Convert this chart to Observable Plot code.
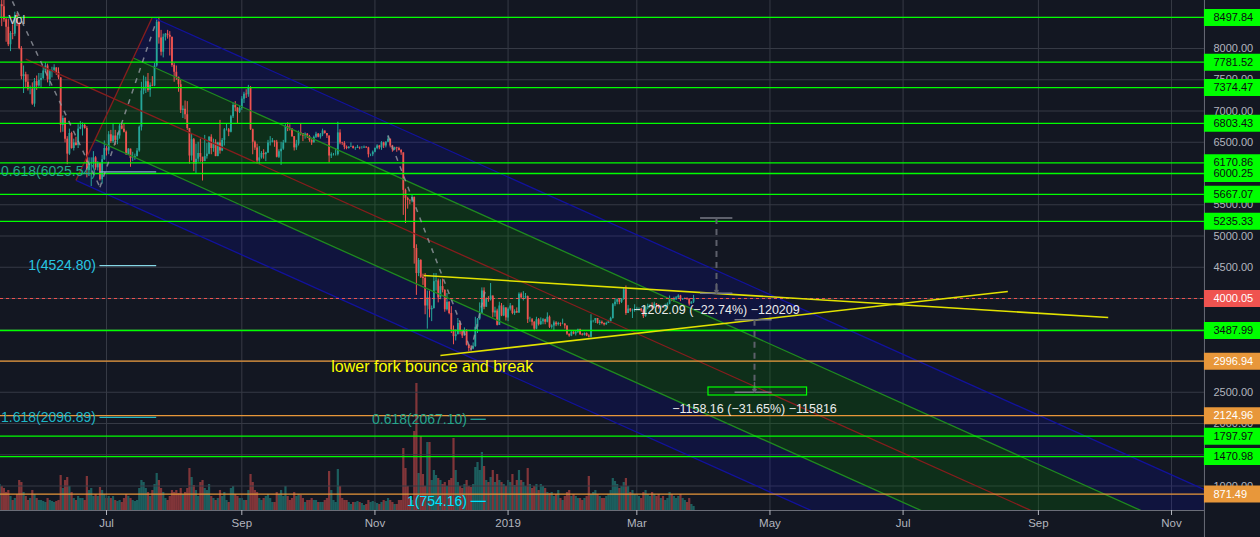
<!DOCTYPE html>
<html><head><meta charset="utf-8">
<script src="https://cdn.jsdelivr.net/npm/d3@7"></script>
<script src="https://cdn.jsdelivr.net/npm/@observablehq/plot@0.6"></script>
<style>
html,body{margin:0;padding:0;background:#131722;}
#chart{position:relative;width:1260px;height:537px;overflow:hidden;background:#131722;font-family:"Liberation Sans",Arial,sans-serif;}
#chart svg{position:absolute;left:0;top:0;}
</style></head><body><div id="chart"></div>
<script>
// ---------- data ----------
const startDay = "2018-05-13";
const firstOpen = 8480;
const closes = [
 8700,8670,8460,8340,8060,8240,8230,8530,8400,8000,7550,7580,7460,7350,7350,7110,7470,7400,7490,
 7520,7640,7720,7500,7630,7650,7690,7620,7530,6770,6880,6550,6310,6640,6400,6490,6450,6710,6740,6770,6720,6050,6160,6170,6250,6090,6160,5900,6220,6400,
 6360,6620,6510,6600,6530,6600,6760,6710,6660,6300,6390,6240,6240,6270,6360,6740,7320,7380,7470,7330,7410,7400,7720,8420,8170,7940,8180,8230,8210,8180,7730,
 7620,7540,7420,7010,7030,6940,6720,6280,6540,6150,6230,6320,6260,6190,6270,6310,6580,6400,6490,6270,6490,6360,6530,6700,6700,6660,6910,7090,7050,6980,7040,
 7190,7270,7260,7370,6700,6500,6410,6200,6250,6320,6300,6330,6490,6500,6520,6500,6260,6350,6390,6490,6750,6720,6710,6590,6410,6470,6650,6640,6600,6630,
 6590,6530,6490,6580,6630,6580,6620,6680,6640,6600,6280,6300,6300,6300,6650,6490,6480,6420,6400,6420,6430,6400,6400,6420,6410,6410,6420,6410,6300,6300,6340,
 6400,6440,6410,6490,6440,6500,6550,6440,6380,6410,6400,6370,6330,5730,5600,5570,5560,5620,4800,4400,4610,4340,4320,3880,4010,3820,3840,4270,4280,4010,
 4190,4130,3820,3940,3760,3500,3390,3420,3600,3470,3400,3490,3250,3200,3190,3230,3540,3670,3760,4120,3860,4000,3980,4040,3770,3800,3570,3880,3720,3850,3690,
 3830,3880,3760,3790,3770,4070,4010,4010,4030,3660,3660,3620,3510,3660,3580,3630,3660,3620,3700,3540,3560,3610,3580,3600,3590,3590,3560,3430,3400,3460,3430,
 3460,3500,3420,3410,3440,3400,3380,3640,3640,3680,3600,3620,3600,3580,3600,3630,3680,3900,3940,3980,3940,3990,4140,3760,3830,3800,3810,3820,
 3830,3830,3800,3710,3860,3870,3880,3850,3910,3890,3850,3870,3860,3870,3910,4000,3970,3980,4010,4040,3980,3990,4000,3990,3910,3940,4000.05
];
const highs = [
 8750,8880,8840,8480,8470,8270,8380,8580,8560,8420,8030,7720,7620,7580,7400,7450,7520,7560,7600,
 7600,7700,7770,7750,7660,7700,7740,7690,7690,7530,6920,6890,6590,6710,6660,6550,6580,6780,6830,6810,6790,6750,6250,6250,6350,6270,6190,6170,6290,6520,
 6430,6670,6690,6790,6690,6650,6800,6790,6790,6680,6400,6390,6340,6310,6400,6760,7460,7560,7540,7600,7450,7550,7760,8470,8498,8290,8230,8240,8290,8270,8180,
 7760,7720,7540,7490,7080,7160,7150,6720,6630,6560,6470,6500,6550,6260,6610,6480,6590,6620,6550,6540,6500,6850,6560,6720,6790,6720,6930,7130,7150,7050,7080,
 7230,7300,7340,7410,7390,6710,6520,6470,6430,6350,6380,6340,6530,6590,6560,6520,6530,6380,6500,6530,6780,6810,6780,6720,6590,6530,6680,6800,6640,6650,
 6640,6610,6540,6600,6660,6640,6640,6710,6680,6640,6600,6330,6320,6400,6820,6700,6500,6510,6440,6430,6490,6440,6420,6450,6420,6430,6440,6430,6420,6310,6360,
 6410,6460,6450,6510,6500,6510,6600,6550,6450,6420,6420,6420,6380,6330,5750,5620,5580,5660,5620,4860,4640,4620,4390,4400,4120,4120,3880,4400,4400,4310,
 4300,4310,4140,4080,3950,3870,3560,3500,3680,3630,3490,3530,3500,3260,3240,3290,3700,3680,3930,4170,4170,4010,4030,4240,4040,3860,3830,3940,3920,3890,3850,
 3850,3920,3880,3820,3850,4090,4090,4110,4080,4040,3700,3680,3630,3700,3680,3690,3680,3670,3770,3720,3580,3640,3630,3620,3610,3670,3600,3560,3430,3480,3470,
 3480,3510,3510,3440,3450,3450,3420,3740,3650,3680,3680,3650,3640,3610,3620,3650,3700,3920,4000,3990,4000,4000,4170,4200,3890,3840,3830,3900,
 3860,3850,3840,3820,3880,3910,3900,3930,3940,3920,3900,3890,3880,3910,3930,4040,4000,4020,4030,4060,4050,4000,4010,4010,4000,3950,4050
];
const lows = [
 8400,8350,8420,8100,8030,7950,8140,8190,8350,7980,7500,7280,7360,7320,7260,7090,7060,7330,7380,
 7370,7500,7610,7450,7390,7530,7630,7570,7500,6650,6660,6490,6140,6290,6390,6360,6440,6400,6700,6600,6710,5930,6050,5790,6080,6050,6040,5880,5830,6210,
 6280,6300,6480,6480,6450,6460,6550,6700,6650,6290,6290,6100,6190,6210,6270,6340,6680,7260,7280,7300,7220,7390,7390,7700,8070,7880,7850,8120,8150,7880,7700,
 7460,7490,7300,6960,6880,6860,6690,6150,6200,6030,6000,6180,6180,5880,6200,6230,6300,6300,6340,6270,6270,6310,6350,6440,6680,6590,6650,6880,6990,6800,6960,
 7010,7120,7200,7220,6690,6300,6370,6150,6140,6230,6230,6190,6320,6440,6490,6420,6250,6240,6130,6370,6490,6670,6680,6580,6360,6370,6440,6600,6510,6550,
 6560,6500,6450,6490,6560,6570,6550,6590,6630,6560,6170,6240,6280,6280,6280,6460,6450,6380,6380,6390,6420,6390,6370,6400,6380,6390,6400,6400,6250,6270,6270,
 6330,6380,6380,6370,6400,6410,6500,6410,6340,6370,6340,6360,6290,5330,5200,5430,5500,5530,4550,4050,4350,4320,4210,3740,3510,3690,3630,3830,4120,3930,
 3980,4090,3780,3800,3740,3440,3260,3320,3420,3420,3360,3410,3240,3150,3160,3180,3220,3440,3650,3760,3820,3860,3940,3960,3690,3700,3560,3570,3710,3710,3640,
 3630,3800,3740,3730,3760,3760,3990,3960,3990,3600,3620,3560,3470,3500,3560,3570,3580,3580,3610,3520,3510,3480,3550,3560,3550,3580,3510,3410,3380,3390,3420,
 3400,3440,3410,3400,3400,3390,3370,3370,3610,3600,3590,3570,3580,3560,3570,3600,3610,3670,3870,3900,3900,3920,3970,3730,3760,3780,3680,3780,
 3800,3800,3780,3680,3700,3820,3850,3820,3840,3860,3830,3820,3840,3810,3860,3900,3950,3940,3970,3990,3950,3970,3980,3970,3880,3910,3920
];
const volumes = [
 26,24,22,18,20,14,10,12,16,30,28,18,14,10,12,20,16,12,10,
 10,9,8,12,10,9,8,9,10,35,22,30,33,24,18,12,10,14,12,12,10,34,20,22,14,16,14,23,20,16,
 12,14,12,14,10,9,10,8,12,16,14,12,10,9,10,22,30,28,22,18,14,20,26,37,30,22,18,12,10,14,20,
 18,20,17,22,16,18,22,42,33,25,20,14,28,30,22,20,26,14,12,10,12,20,14,18,10,8,22,24,16,14,12,
 12,10,10,20,36,28,20,18,12,10,12,14,16,12,8,8,18,16,20,14,24,14,10,12,18,14,16,15,12,8,
 10,10,12,10,10,8,8,8,10,12,39,20,10,8,41,24,12,10,10,8,6,8,8,9,8,7,5,6,10,8,9,
 8,7,6,8,10,9,12,10,8,6,6,10,10,62,42,24,12,10,79,127,37,74,36,24,68,68,30,40,35,32,
 30,26,28,24,30,32,72,40,28,24,22,26,30,24,23,26,43,48,40,58,44,30,28,33,40,28,36,30,28,26,24,
 30,28,36,25,30,40,30,28,24,42,26,22,24,26,20,26,24,22,18,17,18,14,16,20,12,10,14,18,20,14,16,
 14,12,12,10,12,14,34,16,18,20,16,14,12,12,14,16,20,32,29,26,22,24,28,32,24,18,20,16,
 16,14,12,18,20,16,14,18,16,14,16,12,14,10,12,18,16,14,12,14,16,12,10,8,12,6,4
];

const greenLevels = [8497.84, 7781.52, 7374.47, 6803.43, 6170.86, 6000.25, 5667.07, 5235.33, 3487.99, 1797.97, 1470.98];
const orangeLevels = [2996.94, 2124.96, 871.49];
const lastPrice = 4000.05;
// scale labels that remain (partly) visible beside the coloured price boxes
const priceTicks = [8000, 7500, 7000, 6500, 5500, 5000, 4500, 2500, 2000, 1000];
const gridPrices = [8500, 8000, 7500, 7000, 6500, 6000, 5500, 5000, 4500, 4000, 3500, 3000, 2500, 2000, 1500, 1000];
const monthTicks = ["2018-07-01","2018-09-01","2018-11-01","2019-01-01","2019-03-01","2019-05-01","2019-07-01","2019-09-01","2019-11-01"];
const monthLabels = ["Jul","Sep","Nov","2019","Mar","May","Jul","Sep","Nov"];

// Andrews pitchfork anchors (P1, P2, P3)
const forkDates = ["2018-05-25", "2018-07-22", "2018-06-17"];
const forkPrices = [7830, 8500, 5890];

// triangle trend lines
const triStartDates = ["2018-11-23T07:00Z", "2018-12-01T00:00Z"];
const triStartPrices = [4368, 3088];
const triEndDates = ["2019-10-03T00:00Z", "2019-08-18T00:00Z"];
const triEndPrices = [3696, 4112];

// trend-based fib extensions (A, B, C points) and their levels
const fib1Dates = ["2018-05-06", "2018-06-28", "2018-07-24"];
const fib1Prices = [9708.6, 5780, 8453.4];
const fib1Ratios = ["0.618", "1", "1.618"];
const fib1Values = [6025.54, 4524.80, 2096.89];
const fib2Dates = ["2018-11-07", "2018-12-15", "2018-12-22"];
const fib2Prices = [6608, 3171, 4191.18];
const fib2Ratios = ["0.618", "1"];
const fib2Values = [2067.10, 754.16];

// price-range measurements
const measStart = ["2019-03-30T05:00Z", "2019-04-15T00:00Z"];
const measEnd = ["2019-04-14T00:00Z", "2019-05-02T00:00Z"];
const measMid = ["2019-04-06T12:00Z", "2019-04-23T22:00Z"];
const measTop = [5286.2, 3659.3];
const measBottom = [4084.1, 2501.1];
const measLabels = ["\u22121202.09 (\u221222.74%) \u2212120209", "\u22121158.16 (\u221231.65%) \u2212115816"];
const boxDates = ["2019-04-02T20:00Z", "2019-05-18T00:00Z"];
const boxPrices = [2448, 2576];

const noteText = "lower fork bounce and break";
const noteDate = "2018-10-12";
const notePrice = 2912;

// ---------- build ----------
const X0 = new Date(Date.UTC(2018, 4, 13, 10, 17));
const X1 = new Date(Date.UTC(2019, 11, 11, 18, 30));
const AXIS = new Date(Date.UTC(2019, 10, 16, 2));
const Y0 = 608, Y1 = 8768;
const D = s => new Date(s.length === 10 ? s + "T00:00:00Z" : s);

const day0 = D(startDay);
const candles = closes.map((c, i) => {
  const open = i ? closes[i - 1] : firstOpen;
  return {date: d3.utcDay.offset(day0, i), open, close: c,
    high: Math.max(highs[i], open, c), low: Math.min(lows[i], open, c),
    vol: volumes[i], up: c >= open};
});

// pitchfork geometry
const fp = forkDates.map((d, i) => ({t: +D(d), p: forkPrices[i]}));
const [P1, P2, P3] = fp;
const M = {t: (P2.t + P3.t) / 2, p: (P2.p + P3.p) / 2};
const dir = {t: M.t - P1.t, p: M.p - P1.p};
const tEnd = +AXIS;
function forkLine(f) {
  const s = f === null ? P1 : {t: M.t + f * (P2.t - P3.t), p: M.p + f * (P2.p - P3.p)};
  const k = (tEnd - s.t) / dir.t;
  return {x1: new Date(s.t), y1: s.p, x2: new Date(tEnd), y2: s.p + k * dir.p};
}
function band(fa, fb) {
  const a = forkLine(fa), b = forkLine(fb);
  return [{x: a.x1, y: a.y1}, {x: a.x2, y: a.y2}, {x: b.x2, y: b.y2}, {x: b.x1, y: b.y1}];
}
const outerLines = [forkLine(0.5), forkLine(-0.5)];
const innerLines = [forkLine(0.25), forkLine(-0.25)];
const medianLine = [forkLine(null)];
const handleLine = [{x1: D(forkDates[2]), y1: forkPrices[2], x2: D(forkDates[1]), y2: forkPrices[1]}];

const triRows = triStartDates.map((d, i) => ({x1: D(d), y1: triStartPrices[i], x2: D(triEndDates[i]), y2: triEndPrices[i]}));

function fibSegs(dates, prices) {
  return [0, 1].map(i => ({x1: D(dates[i]), y1: prices[i], x2: D(dates[i + 1]), y2: prices[i + 1]}));
}
const fibDash = [...fibSegs(fib1Dates, fib1Prices), ...fibSegs(fib2Dates, fib2Prices)];
const fibTextColors1 = ["#27a68c", "#29c6e2", "#1fb6c6"];
const fibLineColors1 = ["#86aecb", "#86d6e6", "#22b8c8"];
const fibTextColors2 = ["#27a68c", "#00e5ff"];
const fibLineColors2 = ["#26a69a", "#00e5ff"];
const fibRows = [
  ...fib1Values.map((v, i) => ({x1: D(fib1Dates[1]), x2: D(fib1Dates[2]), price: v, label: `${fib1Ratios[i]}(${v.toFixed(2)})`, tc: fibTextColors1[i], lc: fibLineColors1[i]})),
  ...fib2Values.map((v, i) => ({x1: D(fib2Dates[1]), x2: D(fib2Dates[2]), price: v, label: `${fib2Ratios[i]}(${v.toFixed(2)})`, tc: fibTextColors2[i], lc: fibLineColors2[i]}))
];

const measRows = measStart.map((d, i) => ({x1: D(d), x2: D(measEnd[i]), xm: D(measMid[i]), top: measTop[i], bottom: measBottom[i], label: measLabels[i]}));
const headLen = 8 * (Y1 - Y0) / 510;

const labelOf = new Map(monthTicks.map((d, i) => [+D(d), monthLabels[i]]));
const monthDates = monthTicks.map(D);

const common = {
  width: 1260, height: 537, marginTop: 0, marginRight: 0, marginBottom: 27, marginLeft: 0,
  x: {type: "utc", domain: [X0, X1], axis: null}
};

// volume pane (bottom layer)
const volPlot = Plot.plot({
  ...common,
  style: {background: "#131722"},
  y: {domain: [0, 510], axis: null},
  marks: [
    Plot.ruleX(candles, {filter: d => d.up, x: "date", y1: 0, y2: "vol", stroke: "#26a69a", strokeOpacity: 0.5, strokeWidth: 2.2}),
    Plot.ruleX(candles, {filter: d => !d.up, x: "date", y1: 0, y2: "vol", stroke: "#ef5350", strokeOpacity: 0.5, strokeWidth: 2.2})
  ]
});

const GRID = "#363a45";
const mainPlot = Plot.plot({
  ...common,
  style: {background: "transparent", fontFamily: "'Liberation Sans', Arial, sans-serif", fontSize: "11px", color: "#b2b5be"},
  y: {domain: [Y0, Y1], axis: null},
  color: {type: "identity"},
  marks: [
    // grid
    Plot.ruleY(gridPrices, {x1: X0, x2: AXIS, stroke: GRID}),
    Plot.ruleX(monthDates, {stroke: GRID}),
    // pitchfork fills
    Plot.line(band(0.5, 0.25), {x: "x", y: "y", fill: "#0000ff", fillOpacity: 0.13, stroke: "none", curve: "linear-closed", clip: true}),
    Plot.line(band(0.25, -0.25), {x: "x", y: "y", fill: "#008000", fillOpacity: 0.23, stroke: "none", curve: "linear-closed", clip: true}),
    Plot.line(band(-0.25, -0.5), {x: "x", y: "y", fill: "#0000ff", fillOpacity: 0.13, stroke: "none", curve: "linear-closed", clip: true}),
    // candles
    Plot.ruleX(candles, {filter: d => d.up, x: "date", y1: "low", y2: "high", stroke: "#26a69a", strokeWidth: 1}),
    Plot.ruleX(candles, {filter: d => d.up, x: "date", y1: "open", y2: "close", stroke: "#26a69a", strokeWidth: 1.8}),
    Plot.ruleX(candles, {filter: d => !d.up, x: "date", y1: "low", y2: "high", stroke: "#ef5350", strokeWidth: 1}),
    Plot.ruleX(candles, {filter: d => !d.up, x: "date", y1: "open", y2: "close", stroke: "#ef5350", strokeWidth: 1.8}),
    // pitchfork lines
    Plot.link(outerLines, {x1: "x1", y1: "y1", x2: "x2", y2: "y2", stroke: "#12129c", strokeWidth: 1.3, clip: true}),
    Plot.link(innerLines, {x1: "x1", y1: "y1", x2: "x2", y2: "y2", stroke: "#1f8a1f", strokeWidth: 1.3, clip: true}),
    Plot.link(medianLine, {x1: "x1", y1: "y1", x2: "x2", y2: "y2", stroke: "#861d1d", strokeWidth: 1.3, clip: true}),
    Plot.link(handleLine, {x1: "x1", y1: "y1", x2: "x2", y2: "y2", stroke: "#861d1d", strokeWidth: 1.3, clip: true}),
    // horizontal levels
    Plot.ruleY(greenLevels, {x1: X0, x2: AXIS, stroke: "#00ff00", strokeWidth: 1.3}),
    Plot.ruleY(orangeLevels, {x1: X0, x2: AXIS, stroke: "#e8973a", strokeWidth: 1.3}),
    Plot.ruleY([lastPrice], {x1: X0, x2: AXIS, stroke: "#ef5350", strokeWidth: 1, strokeDasharray: "3,3"}),
    // fib extensions
    Plot.link(fibDash, {x1: "x1", y1: "y1", x2: "x2", y2: "y2", stroke: "#9598a1", strokeOpacity: 0.8, strokeWidth: 1.5, strokeDasharray: "5,6", clip: true}),
    Plot.ruleY(fibRows, {y: "price", x1: "x1", x2: "x2", stroke: "lc", strokeWidth: 1.3}),
    Plot.text(fibRows, {x: "x1", y: "price", text: "label", fill: "tc", textAnchor: "end", dx: -4, fontSize: 14}),
    // triangle
    Plot.link(triRows, {x1: "x1", y1: "y1", x2: "x2", y2: "y2", stroke: "#e2e200", strokeWidth: 1.6}),
    Plot.text([noteText], {x: D(noteDate), y: notePrice, text: d => d, fill: "#ffff00", fontSize: 16, textAnchor: "start"}),
    // measurements
    Plot.ruleY(measRows, {y: "top", x1: "x1", x2: "x2", stroke: "#787b86", strokeWidth: 1.5}),
    Plot.ruleY(measRows, {y: "bottom", x1: "x1", x2: "x2", stroke: "#787b86", strokeWidth: 1.5}),
    Plot.link(measRows, {x1: "xm", x2: "xm", y1: "top", y2: "bottom", stroke: "#5d606b", strokeWidth: 2, strokeDasharray: "6,5"}),
    Plot.arrow(measRows, {x1: "xm", x2: "xm", y1: d => d.bottom + headLen * 1.2, y2: "bottom", stroke: "#5d606b", strokeWidth: 1.5, headLength: 7}),
    Plot.text(measRows, {x: "xm", y: "bottom", text: "label", dy: 16.5, fill: "#ececec", fontSize: 12.5}),
    Plot.rect([0], {x1: D(boxDates[0]), x2: D(boxDates[1]), y1: boxPrices[0], y2: boxPrices[1], fill: "none", stroke: "#00ff00", strokeWidth: 1.2}),
    // pane label
    Plot.text(["Vol"], {frameAnchor: "top-left", dx: 8, dy: 15, text: d => d, fill: "#d1d4dc", fontSize: 12, textAnchor: "start"}),
    // axes
    Plot.ruleY([Y0], {x1: X0, x2: AXIS, stroke: "#6a6d78"}),
    Plot.ruleX([AXIS], {stroke: "#6a6d78", insetBottom: -27}),
    Plot.axisX(monthDates, {anchor: "bottom", label: null, tickSize: 5, tickPadding: 3, tickFormat: d => labelOf.get(+d), fontSize: 11.5, color: "#b2b5be"}),
    Plot.text(priceTicks, {x: AXIS, y: d => d, text: d => d.toFixed(2), dx: 9, textAnchor: "start", fill: "#b2b5be", fontSize: 11}),
    Plot.ruleY(greenLevels, {x1: AXIS, x2: X1, stroke: "#00ff00", strokeWidth: 17}),
    Plot.ruleY(orangeLevels, {x1: AXIS, x2: X1, stroke: "#e8973a", strokeWidth: 17}),
    Plot.ruleY([lastPrice], {x1: AXIS, x2: X1, stroke: "#ef5350", strokeWidth: 17}),
    Plot.text(greenLevels, {x: AXIS, y: d => d, text: d => d.toFixed(2), dx: 9, textAnchor: "start", fill: "#0b0d12", fontSize: 11}),
    Plot.text(orangeLevels, {x: AXIS, y: d => d, text: d => d.toFixed(2), dx: 9, textAnchor: "start", fill: "#ffffff", fontSize: 11}),
    Plot.text([lastPrice], {x: AXIS, y: d => d, text: d => d.toFixed(2), dx: 9, textAnchor: "start", fill: "#ffffff", fontSize: 11})
  ]
});

const host = document.getElementById("chart");
host.appendChild(volPlot);
host.appendChild(mainPlot);
</script></body></html>
